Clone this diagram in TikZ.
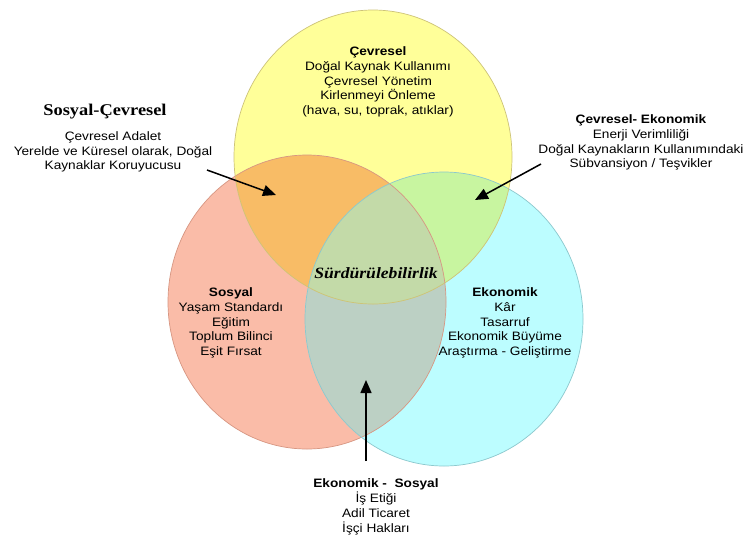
\documentclass[tikz,border=0pt]{standalone}
\usepackage{fontspec}
\setmainfont{Liberation Sans}[FakeStretch=1.12]
\newfontfamily\timesfont{Liberation Serif}[FakeStretch=1.12]
\usetikzlibrary{arrows.meta}
\definecolor{cevrecolor}{RGB}{255,255,153}
\definecolor{sosyalcolor}{RGB}{250,188,168}
\definecolor{ekocolor}{RGB}{188,253,255}
\definecolor{sccolor}{RGB}{248,188,102}
\definecolor{cecolor}{RGB}{200,245,160}
\definecolor{escolor}{RGB}{188,208,196}
\definecolor{centercolor}{RGB}{195,218,168}
\definecolor{cevrerim}{RGB}{205,195,120}
\definecolor{sosyalrim}{RGB}{215,150,130}
\definecolor{ekorim}{RGB}{140,200,205}
\def\cevrepath{(373,157) ellipse [x radius=139pt, y radius=147pt]}
\def\sosyalpath{(307,302) ellipse [x radius=139pt, y radius=147pt]}
\def\ekopath{(444,319) ellipse [x radius=139pt, y radius=147pt]}
\begin{document}
\begin{tikzpicture}[
    x=1pt, y=-1pt,
    textblock/.style={align=center, inner sep=0pt, font=\fontsize{12.2}{14.8}\selectfont},
    pointer/.style={-{Triangle[length=13pt, width=11pt]}, line width=1.5pt},
    rim/.style={line width=0.7pt}
]
    \path[fill=white] (0,0) rectangle (746,539);
    \useasboundingbox (0,0) rectangle (746,539);

    % Circles
    \fill[sosyalcolor] \sosyalpath;
    \fill[ekocolor] \ekopath;
    \fill[cevrecolor] \cevrepath;

    % Overlaps
    \begin{scope}
        \clip \sosyalpath;
        \fill[escolor] \ekopath;
    \end{scope}
    \begin{scope}
        \clip \cevrepath;
        \fill[sccolor] \sosyalpath;
        \fill[cecolor] \ekopath;
        \clip \sosyalpath;
        \fill[centercolor] \ekopath;
    \end{scope}

    \draw[rim, draw=sosyalrim] \sosyalpath;
    \draw[rim, draw=ekorim] \ekopath;
    \draw[rim, draw=cevrerim] \cevrepath;

    % Main areas
    \node[textblock] (cevre) at (378, 82) {\textbf{Çevresel}\\Doğal Kaynak Kullanımı\\Çevresel Yönetim\\Kirlenmeyi Önleme\\(hava, su, toprak, atıklar)};
    \node[textblock] (sosyal) at (231, 323) {\textbf{Sosyal}\\Yaşam Standardı\\Eğitim\\Toplum Bilinci\\Eşit Fırsat};
    \node[textblock] (eko) at (505, 323) {\textbf{Ekonomik}\\Kâr\\Tasarruf\\Ekonomik Büyüme\\Araştırma - Geliştirme};
    \node[font=\timesfont\bfseries\itshape\fontsize{15.7}{18}\selectfont, inner sep=0pt] (surdur) at (376, 273) {Sürdürülebilirlik};

    % Sosyal-Cevresel
    \node[font=\timesfont\bfseries\fontsize{16.4}{19}\selectfont, inner sep=0pt] (sctitle) at (105, 112) {Sosyal-Çevresel};
    \node[textblock] (sc) at (113, 152) {Çevresel Adalet\\Yerelde ve Küresel olarak, Doğal\\Kaynaklar Koruyucusu};
    \coordinate (scstart) at (207, 170);
    \coordinate (sctip) at (276, 195);
    \draw[pointer] (scstart) -- (sctip);

    % Cevresel-Ekonomik
    \node[textblock] (ce) at (641, 142.5) {\textbf{Çevresel- Ekonomik}\\Enerji Verimliliği\\Doğal Kaynakların Kullanımındaki\\Sübvansiyon / Teşvikler};
    \coordinate (cestart) at (541, 164);
    \coordinate (cetip) at (475, 200);
    \draw[pointer] (cestart) -- (cetip);

    % Ekonomik-Sosyal
    \node[textblock] (es) at (376, 507) {\textbf{Ekonomik -\ \ Sosyal}\\İş Etiği\\Adil Ticaret\\İşçi Hakları};
    \coordinate (esstart) at (366, 461);
    \coordinate (estip) at (366, 380);
    \draw[pointer] (esstart) -- (estip);
\end{tikzpicture}
\end{document}
